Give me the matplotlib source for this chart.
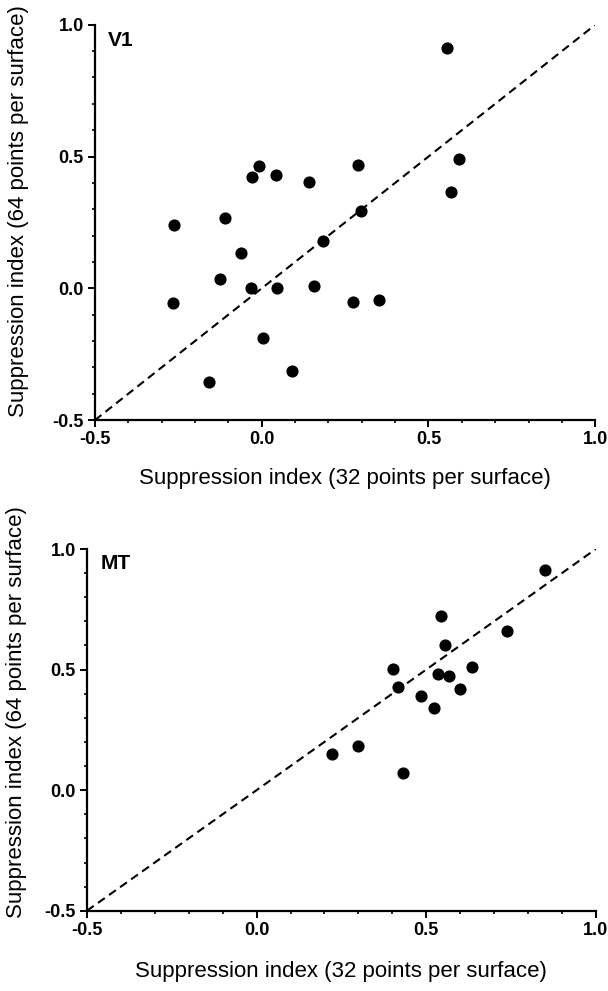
import matplotlib
matplotlib.use("Agg")
import matplotlib.pyplot as plt
from matplotlib.ticker import MultipleLocator, FuncFormatter

plt.rcParams['font.family'] = ['Liberation Sans', 'DejaVu Sans']

# V1: suppression index, 32 vs 64 points per surface
v1_x = [0.556, 0.592, 0.568, 0.289, 0.142, 0.298, -0.008, -0.029, 0.043, -0.110,
        0.184, -0.062, -0.125, -0.032, 0.046, 0.157, 0.274, 0.352, -0.263, -0.266,
        0.004, 0.091, -0.158]
v1_y = [0.913, 0.491, 0.366, 0.468, 0.402, 0.294, 0.465, 0.423, 0.430, 0.267,
        0.180, 0.134, 0.035, 0.001, 0.001, 0.009, -0.052, -0.044, 0.240, -0.056,
        -0.189, -0.314, -0.356]

# MT
mt_x = [0.850, 0.738, 0.543, 0.555, 0.402, 0.635, 0.535, 0.567, 0.417, 0.599,
        0.485, 0.523, 0.300, 0.223, 0.432]
mt_y = [0.913, 0.660, 0.722, 0.602, 0.503, 0.511, 0.482, 0.474, 0.428, 0.420,
        0.391, 0.341, 0.184, 0.150, 0.072]

ticks = [-0.5, 0.0, 0.5, 1.0]
xlabel = "Suppression index (32 points per surface)"
ylabel = "Suppression index (64 points per surface)"

fig = plt.figure(figsize=(6.08, 9.91), dpi=100)
ax1 = fig.add_axes([0.156, 0.576, 0.823, 0.399])
ax2 = fig.add_axes([0.143, 0.081, 0.837, 0.365])


def style(ax, name, xs, ys, xl_pos, yl_pos):
    ax.plot([-0.5, 1.0], [-0.5, 1.0], color='black', lw=1.5, ls=(0, (4, 2.5)), zorder=1)
    ax.scatter(xs, ys, s=60, color='black', zorder=2, clip_on=False)
    ax.set_xlim(-0.5, 1.0)
    ax.set_ylim(-0.5, 1.0)
    for s in ['top', 'right']:
        ax.spines[s].set_visible(False)
    for s in ['left', 'bottom']:
        ax.spines[s].set_linewidth(1.6)
    ax.set_xticks(ticks)
    ax.set_yticks(ticks)
    ax.xaxis.set_minor_locator(MultipleLocator(0.1))
    ax.yaxis.set_minor_locator(MultipleLocator(0.1))
    fmt = FuncFormatter(lambda v, p: ("%.1f" % v).replace('\u2212', '-'))
    ax.xaxis.set_major_formatter(fmt)
    ax.yaxis.set_major_formatter(fmt)
    ax.tick_params(which='major', length=5, width=1.4, labelsize=13, pad=3)
    ax.tick_params(which='minor', length=2.5, width=1.2)
    for lab in ax.get_xticklabels() + ax.get_yticklabels():
        lab.set_fontweight('bold')
    ax.set_xlabel(xlabel, fontsize=16, va='center')
    ax.set_ylabel(ylabel, fontsize=16, va='center')
    ax.xaxis.set_label_coords(0.5, xl_pos)
    ax.yaxis.set_label_coords(yl_pos[0], yl_pos[1])
    ax.text(0.026, 0.985, name, transform=ax.transAxes, fontsize=15,
            fontweight='bold', va='top', ha='left')


style(ax1, "V1", v1_x, v1_y, -0.147, (-0.152, 0.53))
style(ax2, "MT", mt_x, mt_y, -0.169, (-0.139, 0.55))

fig.savefig("out.png", dpi=100)
